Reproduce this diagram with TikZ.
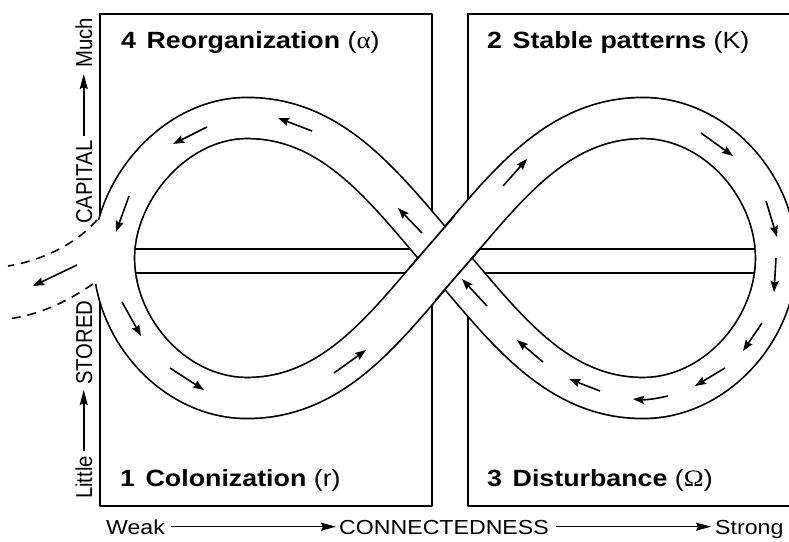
\documentclass[tikz,border=0pt]{standalone}
\usepackage{fontspec}
\setmainfont{Liberation Sans}
\newfontfamily\wsans[FakeStretch=1.14]{Liberation Sans}
\newfontfamily\wserif[FakeStretch=1.14]{Liberation Serif}
\usetikzlibrary{arrows.meta}
\begin{document}
\begin{tikzpicture}[x=1pt,y=-1pt,line join=round,
  boxline/.style={line width=1.8pt},
  barline/.style={line width=1.7pt},
  edgeline/.style={line width=1.7pt,line cap=butt},
  band/.style={draw=black,line width=42.8pt,line cap=butt,
    postaction={draw=white,line width=39.4pt,line cap=butt}},
  flow/.style={line width=1.6pt,-{Stealth[length=11pt,width=8pt,inset=1.5pt]}},
  axis/.style={line width=1.5pt,-{Stealth[length=15pt,width=8pt,inset=2pt]}},
  exitline/.style={line width=1.6pt,dash pattern=on 9pt off 7pt},
  title/.style={anchor=base west,inner sep=0pt,font=\wsans\fontsize{23.5}{28}\selectfont},
  axlabel/.style={anchor=base west,inner sep=0pt,text height=14.6pt,text depth=0pt,
    font=\wsans\fontsize{20.3}{24}\selectfont},
  vlabel/.style={rotate=90,inner sep=0pt,text height=16.5pt,text depth=0pt,
    font=\fontsize{20.3}{24}\selectfont}]
\useasboundingbox (0,0) rectangle (789,541);
\clip (0,0) rectangle (789,541);
\fill[white] (0,0) rectangle (789,541);

% quadrant boxes
\draw[boxline] (100,14) rectangle (432,506);
\draw[boxline] (468,14) rectangle (830,506);

% horizontal bar through both loops
\draw[barline] (125,249) -- (765,249) (125,273) -- (765,273);

% the lazy-eight band
\path[band] (445,258) .. controls (386.5,190.4) and (335,118) .. (247,118)
  .. controls (175,118) and (114,190) .. (114,258)
  .. controls (114,330) and (175,398) .. (247,398)
  .. controls (335,398) and (386.5,325.6) .. (445,258)
  .. controls (503.5,190.4) and (555,118) .. (643,118)
  .. controls (715,118) and (776,186) .. (776,258)
  .. controls (776,330) and (715,398) .. (643,398)
  .. controls (555,398) and (503.5,325.6) .. (445,258) -- cycle;
% edges of the over-crossing band
\draw[edgeline] (408.6,268.8) -- (454.4,215.9);
\draw[edgeline] (435.6,300.1) -- (481.4,247.2);

% exit gap on the left
\fill[white] (84,220) rectangle (101,284);
\draw[exitline] (97,220) .. controls (78,242) and (45,260) .. (8,266);
\draw[exitline] (93,284) .. controls (72,298) and (45,314) .. (8,319);
\draw[flow] (77,265) -- (33,286);

% flow arrows
\draw[flow] (312,131) -- (278,118);
\draw[flow] (207,127) -- (173,144);
\draw[flow] (129,196) -- (116,232);
\draw[flow] (422,233) -- (398,208);
\draw[flow] (122,302) -- (141,336);
\draw[flow] (170,368) -- (204,390);
\draw[flow] (334,373) -- (366,350);
\draw[flow] (503,186) -- (527,159);
\draw[flow] (701,133) -- (733,156);
\draw[flow] (766,201) -- (777,237);
\draw[flow] (776,258) -- (774,292);
\draw[flow] (762,323) -- (743,351);
\draw[flow] (725,368) -- (695,386);
\draw[flow] (668,396) .. controls (655,399) and (645,400) .. (633,399);
\draw[flow] (600,391) -- (569,379);
\draw[flow] (543,362) -- (517,340);
\draw[flow] (487,306) -- (462,279);

% titles
\node[title] (t4) at (121,48.3) {\bfseries 4\hspace{0.45em}Reorganization \mdseries({\wserif α})};
\node[title] (t2) at (487,48.3) {\bfseries 2\hspace{0.45em}Stable patterns \mdseries(K)};
\node[title] (t1) at (120,486) {\bfseries 1\hspace{0.45em}Colonization \mdseries(r)};
\node[title] (t3) at (487,486) {\bfseries 3\hspace{0.45em}Disturbance \mdseries({\wserif Ω})};

% horizontal axis
\node[axlabel] (weak) at (106,534) {Weak};
\node[axlabel] (conn) at (339,534) {CONNECTEDNESS};
\node[axlabel] (strong) at (715,534) {Strong};
\draw[axis,shorten <=6pt,shorten >=3pt] (weak) -- (conn);
\draw[axis,shorten <=7pt,shorten >=4pt] (conn) -- (strong);

% vertical axis
\node[vlabel,anchor=base west] (little) at (92,499) {\scalebox{1}[1.13]{Little}};
\node[vlabel,anchor=base west] (stored) at (92,385) {\scalebox{1}[1.13]{STORED}};
\node[vlabel,anchor=base west] (capital) at (92,224) {\scalebox{1}[1.13]{CAPITAL}};
\node[vlabel,anchor=base east] (much) at (92,18) {\scalebox{1}[1.13]{Much}};
\draw[axis,shorten <=5pt,shorten >=5pt] (little) -- (stored);
\draw[axis,shorten <=5pt,shorten >=6pt] (capital) -- (much);
\end{tikzpicture}
\end{document}
